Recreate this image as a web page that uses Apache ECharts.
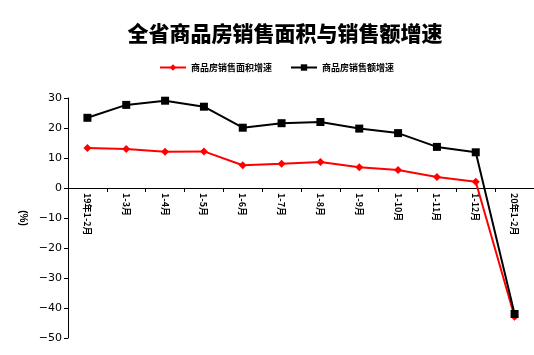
<!DOCTYPE html>
<html>
<head>
<meta charset="utf-8">
<script src="https://cdn.jsdelivr.net/npm/echarts@6/dist/echarts.min.js"></script>
<style>
  html, body { margin: 0; padding: 0; background: #fff; }
  #chart { width: 534px; height: 355px; }
</style>
</head>
<body>
<div id="chart"></div>
<script>
// 月份
var categories = ['19年1-2月', '1-3月', '1-4月', '1-5月', '1-6月', '1-7月', '1-8月', '1-9月', '1-10月', '1-11月', '1-12月', '20年1-2月']
// 商品房销售面积增速 (%)
var areaGrowth = [13.3, 13.0, 12.1, 12.2, 7.6, 8.1, 8.7, 6.9, 6.0, 3.7, 2.1, -42.9]
// 商品房销售额增速 (%)
var salesGrowth = [23.4, 27.7, 29.1, 27.1, 20.1, 21.6, 22.0, 19.8, 18.3, 13.7, 11.9, -42.0]

var chart = echarts.init(document.getElementById('chart'))
chart.setOption({
  animation: false,
  title: {
    text: '全省商品房销售面积与销售额增速',
    left: 280,
    textAlign: 'center',
    top: 18,
    textStyle: {
      fontFamily: 'Noto Sans CJK SC',
      fontWeight: 900,
      fontSize: 21,
      color: '#000'
    }
  },
  legend: { // 图例
    top: 58,
    left: 154,
    itemWidth: 26,
    itemHeight: 8,
    itemGap: 18,
    textStyle: {
      fontFamily: 'Noto Sans CJK SC',
      fontWeight: 'bold',
      fontSize: 9,
      color: '#000'
    },
    data: ['商品房销售面积增速', '商品房销售额增速']
  },
  grid: {
    left: 68,
    right: 0,
    top: 98,
    bottom: 17,
    containLabel: false
  },
  xAxis: {
    type: 'category',
    data: categories,
    boundaryGap: true,
    offset: -150, // 坐标轴移到 0 线
    axisLine: { onZero: false, lineStyle: { color: '#000', width: 1 } },
    axisTick: { show: true, inside: false, length: 4, lineStyle: { color: '#000' } },
    axisLabel: {
      rotate: -90,
      interval: 0,
      margin: 5,
      fontFamily: 'Noto Sans CJK SC',
      fontWeight: 'bold',
      fontSize: 9,
      color: '#000'
    }
  },
  yAxis: {
    type: 'value',
    min: -50,
    max: 30,
    interval: 10,
    name: '(%)',
    nameLocation: 'middle',
    nameGap: 36,
    nameRotate: -90,
    nameTextStyle: { fontSize: 10, fontWeight: 'bold', color: '#000' },
    axisLine: { show: true, lineStyle: { color: '#000' } },
    axisTick: { show: true, length: 4, lineStyle: { color: '#000' } },
    axisLabel: {
      margin: 6,
      fontFamily: 'DejaVu Sans',
      fontSize: 11,
      color: '#000',
      formatter: function(v) {
        return String(v).replace('-', '\u2212')
      }
    },
    splitLine: { show: false }
  },
  series: [
    {
      name: '商品房销售面积增速',
      type: 'line',
      data: areaGrowth,
      symbol: 'diamond',
      symbolSize: 8,
      itemStyle: { color: '#ff0000' },
      lineStyle: { color: '#ff0000', width: 2 }
    },
    {
      name: '商品房销售额增速',
      type: 'line',
      data: salesGrowth,
      symbol: 'rect',
      symbolSize: 8,
      itemStyle: { color: '#000' },
      lineStyle: { color: '#000', width: 2 }
    }
  ]
})
</script>
</body>
</html>
